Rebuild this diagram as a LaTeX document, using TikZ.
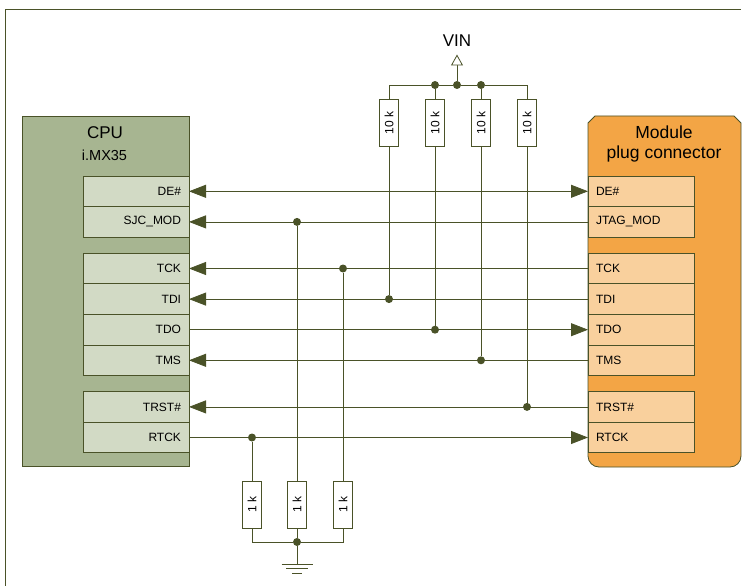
\documentclass[tikz,border=0pt]{standalone}
\usepackage{fontspec}
\setmainfont{Liberation Sans}
\usetikzlibrary{positioning,arrows.meta}
\definecolor{wirecol}{HTML}{4A5228}
\definecolor{cpucol}{HTML}{A7B591}
\definecolor{cpuport}{HTML}{D2DAC5}
\definecolor{modcol}{HTML}{F3A545}
\definecolor{modport}{HTML}{F9D09D}

\begin{document}
\begin{tikzpicture}[
    x=1pt, y=-1pt,
    wire/.style={draw=wirecol, line width=0.8pt},
    sig/.style={wire, >={Triangle[length=17pt, width=13pt]}},
    port/.style={rectangle, draw=wirecol, line width=0.8pt, minimum width=106pt, minimum height=30.6pt, inner sep=0pt, outer sep=0pt, font=\fontsize{12}{14}\selectfont},
    cpuportnode/.style={port, fill=cpuport, text width=90pt, align=right},
    modportnode/.style={port, fill=modport, text width=90pt, align=left},
    resistor/.style={rectangle, draw=wirecol, line width=0.8pt, fill=white, minimum width=47pt, minimum height=19pt, inner sep=0pt, rotate=90, font=\fontsize{12}{14}\selectfont},
    dot/.style={circle, fill=wirecol, minimum size=8pt, inner sep=0pt}
    ]
        \useasboundingbox (0,0) rectangle (748,586);
        \draw[wire] (5,586) |- (741,9);

        %Blocks
        \node[rectangle, draw=wirecol, line width=0.8pt, fill=cpucol, minimum width=167pt, minimum height=350pt, inner sep=0pt, outer sep=0pt]
            (cpu) at (105.5,291) {};
        \draw[wire, fill=modcol] (588,123) -- (595,116) -- (734,116) -- (741,123)
            [rounded corners=11pt] -- (741,467) -- (588,467) [sharp corners] -- cycle;
        \node[font=\fontsize{17}{20}\selectfont] (cpuname) at (105,133) {CPU};
        \node[font=\fontsize{14.5}{17}\selectfont] (cpusub) at (104.5,155) {i.MX35};
        \node[font=\fontsize{17.5}{20}\selectfont, align=center] (modname) at (664,144) {Module\\plug connector};

        %CPU ports
        \node[cpuportnode] (cDE) at (136,191.3) {DE\#};
        \node[cpuportnode] (cSJC) [below=0pt of cDE] {SJC\_MOD};
        \node[cpuportnode] (cTCK) [below=16pt of cSJC] {TCK};
        \node[cpuportnode] (cTDI) [below=0pt of cTCK] {TDI};
        \node[cpuportnode] (cTDO) [below=0pt of cTDI] {TDO};
        \node[cpuportnode] (cTMS) [below=0pt of cTDO] {TMS};
        \node[cpuportnode] (cTRST) [below=16pt of cTMS] {TRST\#};
        \node[cpuportnode] (cRTCK) [below=0pt of cTRST] {RTCK};

        %Module ports
        \node[modportnode] (mDE) at (641,191.3) {DE\#};
        \node[modportnode] (mJTAG) [below=0pt of mDE] {JTAG\_MOD};
        \node[modportnode] (mTCK) [below=16pt of mJTAG] {TCK};
        \node[modportnode] (mTDI) [below=0pt of mTCK] {TDI};
        \node[modportnode] (mTDO) [below=0pt of mTDI] {TDO};
        \node[modportnode] (mTMS) [below=0pt of mTDO] {TMS};
        \node[modportnode] (mTRST) [below=16pt of mTMS] {TRST\#};
        \node[modportnode] (mRTCK) [below=0pt of mTRST] {RTCK};

        %Resistors
        \node[resistor] (rA) at (389,123) {10 k};
        \node[resistor] (rB) at (435,123) {10 k};
        \node[resistor] (rC) at (481,123) {10 k};
        \node[resistor] (rD) at (527,123) {10 k};
        \node[resistor] (rE) at (252,504.5) {1 k};
        \node[resistor] (rF) at (297,504.5) {1 k};
        \node[resistor] (rG) at (343,504.5) {1 k};

        %Dots
        \node[dot] (dB) at (435,85) {};
        \node[dot] (dVIN) at (457,85) {};
        \node[dot] (dC) at (481,85) {};
        \node[dot] (dSJC) at (rF |- cSJC) {};
        \node[dot] (dTCK) at (rG |- cTCK) {};
        \node[dot] (dTDI) at (rA |- cTDI) {};
        \node[dot] (dTDO) at (rB |- cTDO) {};
        \node[dot] (dTMS) at (rC |- cTMS) {};
        \node[dot] (dTRST) at (rD |- cTRST) {};
        \node[dot] (dRTCK) at (rE |- cRTCK) {};
        \node[dot] (dGND) at (297,542) {};
        \node[font=\fontsize{17}{20}\selectfont] (vin) at (457,41) {VIN};
        \coordinate (vintop) at (457,54.5);
        \coordinate (gnd) at (297,564);

        %Lines
        \draw[sig, <->] (cDE.east) -- (mDE.west);
        \draw[sig, <-] (cSJC.east) -- (mJTAG.west);
        \draw[sig, <-] (cTCK.east) -- (mTCK.west);
        \draw[sig, <-] (cTDI.east) -- (mTDI.west);
        \draw[sig, ->] (cTDO.east) -- (mTDO.west);
        \draw[sig, <-] (cTMS.east) -- (mTMS.west);
        \draw[sig, <-] (cTRST.east) -- (mTRST.west);
        \draw[sig, ->] (cRTCK.east) -- (mRTCK.west);

        \draw[wire] (rA.east) |- (dB) -- (dVIN) -- (dC) -| (rD.east);
        \draw[wire] (dB) -- (rB.east);
        \draw[wire] (dC) -- (rC.east);
        \draw[wire] (rA.west) -- (dTDI);
        \draw[wire] (rB.west) -- (dTDO);
        \draw[wire] (rC.west) -- (dTMS);
        \draw[wire] (rD.west) -- (dTRST);
        \draw[wire] (dRTCK) -- (rE.east);
        \draw[wire] (dSJC) -- (rF.east);
        \draw[wire] (dTCK) -- (rG.east);
        \draw[wire] (rE.west) |- (dGND) -| (rG.west);
        \draw[wire] (rF.west) -- (dGND);
        \draw[wire, -{Triangle[open, fill=white, length=11pt, width=12pt]}] (dVIN) -- (vintop);

        %Ground
        \draw[wire] (dGND) -- (gnd);
        \draw[wire] ([xshift=-15.5pt]gnd) -- ([xshift=15.5pt]gnd);
        \draw[wire] ([xshift=-11pt, yshift=-4.5pt]gnd) -- ([xshift=11pt, yshift=-4.5pt]gnd);
        \draw[wire] ([xshift=-5pt, yshift=-9pt]gnd) -- ([xshift=5pt, yshift=-9pt]gnd);
    \end{tikzpicture}
\end{document}
